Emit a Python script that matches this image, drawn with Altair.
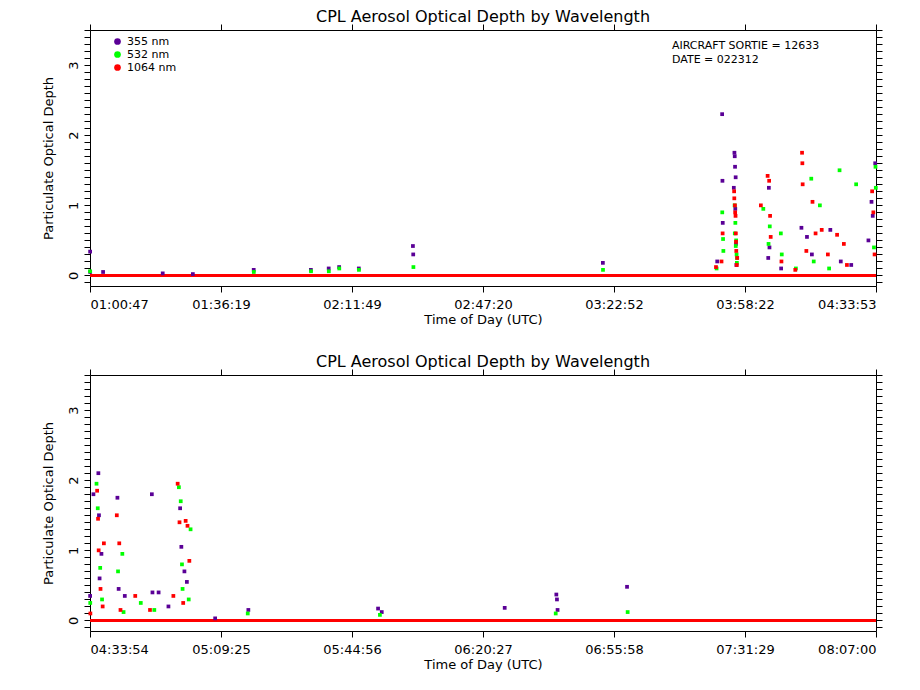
import pandas as pd
import altair as alt

FONT = "DejaVu Sans"

# top panel: (time, value) per wavelength
top_355 = [("01:00:49", 0.34), ("01:00:50", 0.05), ("01:04:20", 0.05), ("01:20:30", 0.03), ("01:28:40", 0.02),
           ("01:45:10", 0.08), ("02:00:40", 0.08), ("02:05:30", 0.1), ("02:08:20", 0.12), ("02:13:40", 0.1),
           ("02:28:20", 0.42), ("02:28:25", 0.3), ("03:19:50", 0.18), ("03:50:50", 0.2),
           ("03:52:10", 2.3), ("03:52:15", 1.35), ("03:52:20", 0.75), ("03:55:30", 1.75), ("03:55:35", 1.7),
           ("03:55:40", 1.55), ("03:55:50", 1.4), ("03:55:55", 0.45), ("03:55:20", 1.25), ("03:55:44", 0.95),
           ("03:56:02", 0.15), ("04:04:40", 0.25), ("04:04:50", 1.25),
           ("04:05:00", 0.4), ("04:08:10", 0.1), ("04:13:40", 0.68), ("04:15:10", 0.55), ("04:16:30", 0.3),
           ("04:21:30", 0.65), ("04:24:20", 0.2), ("04:27:10", 0.15), ("04:31:50", 0.5), ("04:32:40", 1.05),
           ("04:33:00", 0.85), ("04:33:40", 1.6)]
top_532 = [("01:00:48", 0.06), ("01:45:12", 0.05), ("02:00:42", 0.06), ("02:05:32", 0.06), ("02:08:22", 0.1),
           ("02:13:42", 0.08), ("02:28:28", 0.12), ("03:19:52", 0.08), ("03:50:40", 0.1), ("03:52:12", 0.9),
           ("03:52:25", 0.52), ("03:52:30", 0.35), ("03:55:33", 1.0), ("03:55:45", 0.75), ("03:55:58", 0.5),
           ("03:56:05", 0.3), ("03:56:10", 0.18), ("03:55:36", 0.6), ("03:55:52", 0.42), ("03:56:12", 0.25),
           ("04:03:20", 0.95), ("04:04:45", 0.45), ("04:05:05", 0.7),
           ("04:08:05", 0.6), ("04:08:20", 0.3), ("04:12:10", 0.1), ("04:16:20", 1.38), ("04:17:00", 0.2),
           ("04:18:40", 1.0), ("04:21:10", 0.1), ("04:24:00", 1.5), ("04:28:30", 1.3), ("04:33:20", 0.4),
           ("04:33:45", 1.55), ("04:33:50", 1.25)]
top_1064 = [("03:50:30", 0.12), ("03:52:00", 0.2), ("03:52:18", 0.6), ("03:55:25", 1.2), ("03:55:38", 1.0),
            ("03:55:48", 0.85), ("03:55:53", 0.6), ("03:56:00", 0.35), ("03:56:08", 0.15), ("03:55:28", 1.1),
            ("03:55:42", 0.9), ("03:55:56", 0.48), ("03:56:15", 0.25), ("04:02:40", 1.0),
            ("04:04:30", 1.42), ("04:04:55", 1.35), ("04:05:10", 0.85), ("04:05:20", 0.55), ("04:08:15", 0.2),
            ("04:12:00", 0.08), ("04:13:50", 1.75), ("04:13:55", 1.6), ("04:14:00", 1.3), ("04:15:00", 0.35),
            ("04:16:40", 1.05), ("04:17:30", 0.6), ("04:19:10", 0.65), ("04:20:50", 0.3), ("04:23:20", 0.58),
            ("04:25:10", 0.45), ("04:26:00", 0.15), ("04:32:50", 1.2), ("04:33:10", 0.9), ("04:33:30", 0.3)]

# bottom panel
bot_355 = [("04:33:56", 0.35), ("04:34:50", 1.8), ("04:36:10", 2.1), ("04:36:20", 1.5), ("04:36:30", 0.6),
           ("04:37:00", 0.95), ("04:41:20", 1.75), ("04:41:40", 0.45), ("04:43:20", 0.35), ("04:50:40", 1.8),
           ("04:50:50", 0.4), ("04:52:30", 0.4), ("04:55:10", 0.2), ("04:58:20", 1.6), ("04:58:40", 1.05),
           ("04:59:30", 0.7), ("05:00:10", 0.55), ("05:07:50", 0.03), ("05:16:50", 0.15), ("05:52:00", 0.17),
           ("05:53:00", 0.12), ("06:26:20", 0.18), ("06:40:20", 0.37), ("06:40:30", 0.3), ("06:40:40", 0.15),
           ("06:59:30", 0.48)]
bot_532 = [("04:33:58", 0.25), ("04:35:40", 1.95), ("04:36:00", 1.6), ("04:36:40", 0.75), ("04:37:10", 0.3),
           ("04:41:30", 0.7), ("04:42:40", 0.95), ("04:43:00", 0.12), ("04:47:40", 0.25), ("04:51:20", 0.15),
           ("04:58:00", 1.9), ("04:58:30", 1.7), ("04:58:50", 0.8), ("04:59:00", 0.45), ("05:01:10", 1.3),
           ("05:00:40", 0.3), ("05:16:40", 0.1), ("05:52:30", 0.08), ("06:40:10", 0.1), ("06:59:40", 0.12)]
bot_1064 = [("04:34:00", 0.1), ("04:35:50", 1.85), ("04:36:05", 1.45), ("04:36:15", 1.0), ("04:36:45", 0.45),
            ("04:37:20", 0.2), ("04:37:40", 1.1), ("04:41:10", 1.5), ("04:41:50", 1.1), ("04:42:10", 0.15),
            ("04:46:10", 0.35), ("04:50:10", 0.15), ("04:57:40", 1.95), ("04:58:10", 1.4), ("04:59:50", 1.42),
            ("05:00:20", 1.35), ("05:00:50", 0.85), ("04:59:10", 0.25), ("04:56:30", 0.35)]

top_range = ("01:00:47", "04:33:53")
bot_range = ("04:33:54", "08:07:00")
top_ticks = ["01:00:47", "01:36:19", "02:11:49", "02:47:20", "03:22:52", "03:58:22", "04:33:53"]
bot_ticks = ["04:33:54", "05:09:25", "05:44:56", "06:20:27", "06:55:58", "07:31:29", "08:07:00"]

wl = ["355 nm", "532 nm", "1064 nm"]
colors = ["#5a0096", "#00ff00", "#ff0000"]
notes = ["AIRCRAFT SORTIE = 12633", "DATE = 022312"]

AX = dict(labelFont=FONT, titleFont=FONT, labelFontSize=13, titleFontSize=13, titleFontWeight="normal",
          domainColor="black", tickColor="black", labelColor="black", titleColor="black", grid=False, tickSize=6)


def secs(t):
    h, m, s = (int(v) for v in t.split(":"))
    return h * 3600 + m * 60 + s


def frame(series):
    rows = []
    for name, pts in zip(wl, series):
        for t, v in pts:
            rows.append({"t": secs(t), "aod": v, "wl": name})
    return pd.DataFrame(rows)


def panel(series, rng, ticks, show_legend):
    lo, hi = secs(rng[0]), secs(rng[1])
    tick_vals = [lo + i * (hi - lo) / 6 for i in range(7)]
    expr = str(ticks) + "[round((datum.value-%d)/%f)]" % (lo, (hi - lo) / 6)
    xs = alt.Scale(domain=[lo, hi], nice=False, zero=False)
    ys = alt.Scale(domain=[-0.15, 3.5], nice=False)
    yvals = [round(i * 0.1, 1) for i in range(-1, 36)]
    if show_legend:
        leg = alt.Legend(title=None, orient="none", legendX=22, legendY=6, symbolType="circle", symbolSize=45,
                         labelFont=FONT, labelFontSize=11, rowPadding=1, symbolStrokeWidth=0)
    else:
        leg = None
    pts = alt.Chart(frame(series)).mark_square(size=14, opacity=1).encode(
        x=alt.X("t:Q", scale=xs, axis=alt.Axis(values=tick_vals, labelExpr=expr, title="Time of Day (UTC)",
                                                 labelPadding=6, titlePadding=2, **AX)),
        y=alt.Y("aod:Q", scale=ys, axis=alt.Axis(values=yvals, title="Particulate Optical Depth",
                                                   labelExpr="datum.value % 1 == 0 ? datum.value : ''",
                                                   labelAngle=-90, labelAlign="center", labelBaseline="bottom",
                                                   labelPadding=4, titlePadding=12, **AX)),
        color=alt.Color("wl:N", sort=wl, scale=alt.Scale(domain=wl, range=colors), legend=leg),
    )
    base = alt.Chart(pd.DataFrame({"t": [lo, hi], "aod": [0, 0]})).mark_line(color="#ff0000", strokeWidth=3).encode(
        x=alt.X("t:Q", scale=xs, axis=alt.Axis(orient="top", values=tick_vals, labels=False, title=None, **AX)),
        y=alt.Y("aod:Q", scale=ys, axis=alt.Axis(orient="right", values=yvals, labels=False, title=None, **AX)),
    )
    layers = [base, pts]
    if show_legend:
        for i, s in enumerate(notes):
            layers.append(alt.Chart(pd.DataFrame({"s": [s]})).mark_text(
                align="left", baseline="middle", font=FONT, fontSize=11, color="black").encode(
                x=alt.value(582), y=alt.value(16 + 14 * i), text="s:N"))
    return alt.layer(*layers).resolve_axis(x="independent", y="independent").properties(
        width=786, height=256,
        title=alt.Title("CPL Aerosol Optical Depth by Wavelength", font=FONT, fontSize=16, fontWeight="normal",
                        offset=-1, color="black"))


chart = alt.vconcat(
    panel([top_355, top_532, top_1064], top_range, top_ticks, True),
    panel([bot_355, bot_532, bot_1064], bot_range, bot_ticks, False),
    spacing=26,
).configure_view(stroke="black", strokeWidth=1).properties(
    padding={"left": 33, "top": 0, "right": 2, "bottom": 0}
).configure(background="white")

chart.save("out.html", embed_options={"renderer": "svg", "actions": False})
